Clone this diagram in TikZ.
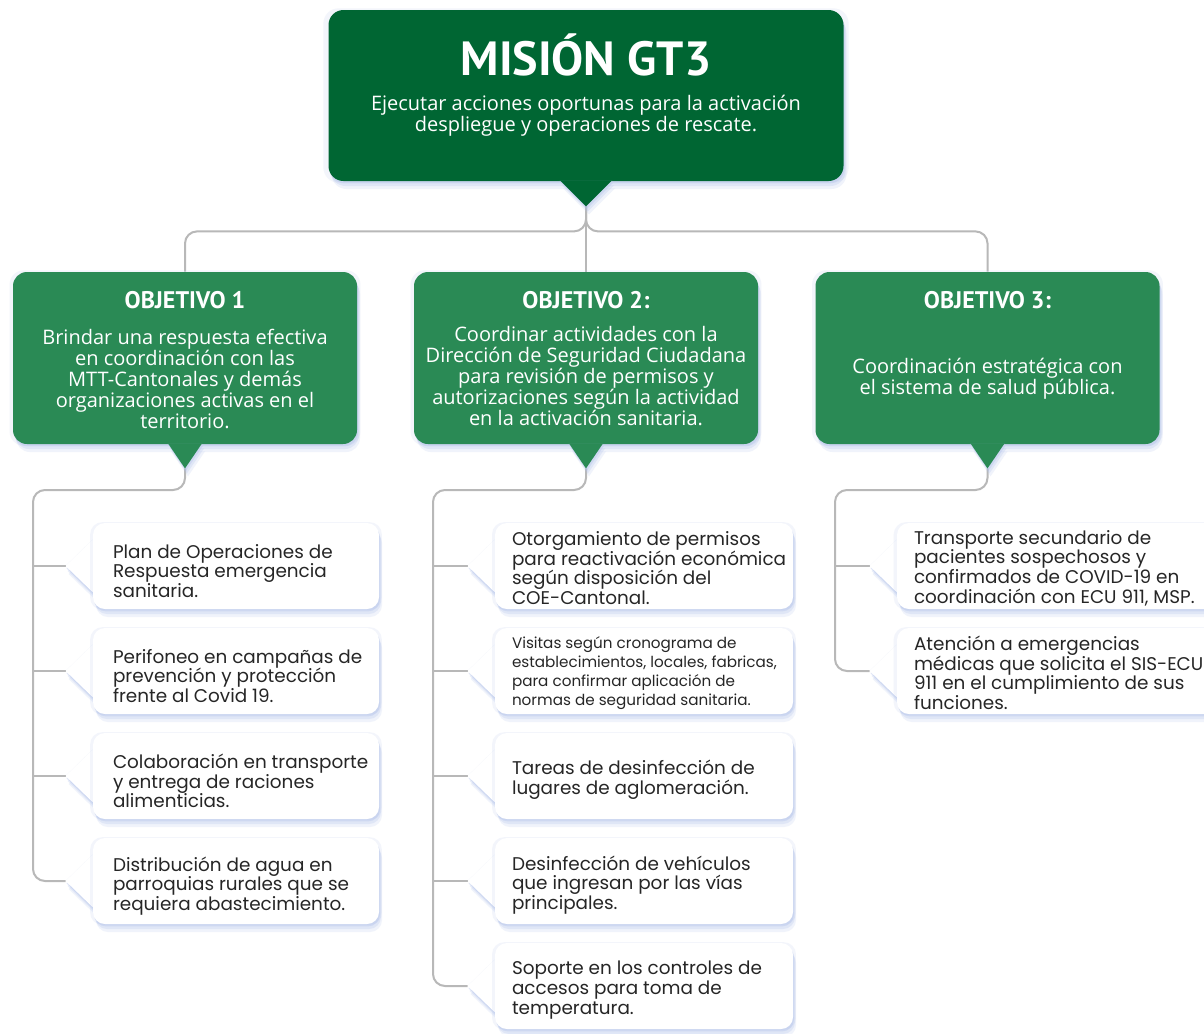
\documentclass[tikz,border=0pt]{standalone}
\usepackage{fontspec}
\setmainfont{Open Sans}
\newfontfamily\headfont{PT Sans}
\newfontfamily\cardfont{Poppins}
\usetikzlibrary{shadows}

\definecolor{misgreen}{HTML}{006633}
\definecolor{objgreen}{HTML}{2A8A55}
\definecolor{linegray}{HTML}{B8B8B8}
\definecolor{shadowblue}{HTML}{AFC0EA}
\definecolor{cardtext}{HTML}{262626}

\pgfdeclarelayer{back}
\pgfsetlayers{back,main}

\begin{document}
\begin{tikzpicture}[x=0.5pt, y=-0.5pt,
    softshadow/.style = {
        drop shadow={shadow xshift=0pt, shadow yshift=0pt, shadow scale=1.02, fill=shadowblue, opacity=0.15},
        drop shadow={shadow xshift=1.5pt, shadow yshift=-4pt, fill=shadowblue, opacity=0.18},
        drop shadow={shadow xshift=1pt, shadow yshift=-2.5pt, fill=shadowblue, opacity=0.25},
        drop shadow={shadow xshift=0.5pt, shadow yshift=-1.2pt, fill=shadowblue, opacity=0.35}},
    misbox/.style = {fill=misgreen, rounded corners=7.5pt, minimum width=257.5pt, minimum height=85.5pt, softshadow},
    objbox/.style = {fill=objgreen, rounded corners=7pt, minimum width=172pt, minimum height=86pt, softshadow},
    card/.style = {fill=white, rounded corners=6pt, minimum height=43pt, softshadow},
    title/.style = {text=white, font=\headfont\bfseries\fontsize{24}{24}\selectfont},
    head/.style = {text=white, font=\headfont\bfseries\fontsize{12}{12}\selectfont},
    body/.style = {text=white, align=center, font=\fontsize{10}{10.6}\selectfont},
    cardtxt/.style = {anchor=west, align=left, inner sep=0pt, text=cardtext, font=\cardfont\fontsize{9.2}{9.8}\selectfont},
    conn/.style = {draw=linegray, line width=1pt, rounded corners=6pt}]

\useasboundingbox (0,0) rectangle (1204,1033);
\begin{pgfonlayer}{back}
\fill[white] (0,0) rectangle (1204,1033);
\end{pgfonlayer}

% mission
\node[misbox] (mis) at (586,95.5) {};
\node[title] (mist) at (586,55) {MISIÓN GT3};
\node[body] (misb) at (586,115.5) {Ejecutar acciones oportunas para la activación\\despliegue y operaciones de rescate.};
\coordinate (mtip) at ([yshift=-12.5pt]mis.south);
\fill[misgreen, softshadow] ([xshift=-13pt,yshift=0.5pt]mis.south) -- ([xshift=13pt,yshift=0.5pt]mis.south) -- (mtip) -- cycle;

% objectives
\node[objbox] (obj1) at (185,358) {};
\node[objbox] (obj2) at (586,358) {};
\node[objbox] (obj3) at (987.5,358) {};
\node[head] (h1) at (185,300) {OBJETIVO 1};
\node[head] (h2) at (586,300) {OBJETIVO 2:};
\node[head] (h3) at (987.5,300) {OBJETIVO 3:};
\node[body] (o1) at (185,379) {Brindar una respuesta efectiva\\en coordinación con las\\MTT-Cantonales y demás\\organizaciones activas en el\\territorio.};
\node[body] (o2) at (586,376) {Coordinar actividades con la\\Dirección de Seguridad Ciudadana\\para revisión de permisos y\\autorizaciones según la actividad\\en la activación sanitaria.};
\node[body] (o3) at (987.5,378.5) {Coordinación estratégica con\\el sistema de salud pública.};
\foreach \o/\t in {obj1/t1, obj2/t2, obj3/t3} {
    \coordinate (\t) at ([yshift=-12pt]\o.south);
    \fill[objgreen, softshadow] ([xshift=-8.5pt,yshift=0.5pt]\o.south) -- ([xshift=8.5pt,yshift=0.5pt]\o.south) -- (\t) -- cycle;
}

% cards
\node[card, minimum width=143pt] (a1) at (236,566) {};
\node[card, minimum width=143pt] (a2) at (236,671) {};
\node[card, minimum width=143pt] (a3) at (236,776) {};
\node[card, minimum width=143pt] (a4) at (236,881) {};
\node[card, minimum width=149pt] (b1) at (644,566) {};
\node[card, minimum width=149pt] (b2) at (644,671) {};
\node[card, minimum width=149pt] (b3) at (644,776) {};
\node[card, minimum width=149pt] (b4) at (644,881) {};
\node[card, minimum width=149pt] (b5) at (644,986) {};
\node[card, minimum width=165pt] (c1) at (1062,566) {};
\node[card, minimum width=165pt] (c2) at (1062,671) {};

\node[cardtxt] (a1t) at ([xshift=10pt,yshift=-2.5pt]a1.west) {Plan de Operaciones de\\Respuesta emergencia\\sanitaria.};
\node[cardtxt] (a2t) at ([xshift=10pt,yshift=-2.5pt]a2.west) {Perifoneo en campañas de\\prevención y protección\\frente al Covid 19.};
\node[cardtxt] (a3t) at ([xshift=10pt,yshift=-2.5pt]a3.west) {Colaboración en transporte\\y entrega de raciones\\alimenticias.};
\node[cardtxt] (a4t) at ([xshift=10pt,yshift=-2.5pt]a4.west) {Distribución de agua en\\parroquias rurales que se\\requiera abastecimiento.};
\node[cardtxt] (b1t) at ([xshift=8.5pt,yshift=-1pt]b1.west) {Otorgamiento de permisos\\para reactivación económica\\según disposición del\\COE-Cantonal.};
\node[cardtxt, font=\cardfont\fontsize{7.6}{9.6}\selectfont] (b2t) at ([xshift=8.5pt,yshift=-1pt]b2.west) {Visitas según cronograma de\\establecimientos, locales, fabricas,\\para confirmar aplicación de\\normas de seguridad sanitaria.};
\node[cardtxt] (b3t) at ([xshift=8.5pt,yshift=-2pt]b3.west) {Tareas de desinfección de\\lugares de aglomeración.};
\node[cardtxt] (b4t) at ([xshift=8.5pt,yshift=-2pt]b4.west) {Desinfección de vehículos\\que ingresan por las vías\\principales.};
\node[cardtxt] (b5t) at ([xshift=8.5pt,yshift=-2pt]b5.west) {Soporte en los controles de\\accesos para toma de\\temperatura.};
\node[cardtxt] (c1t) at ([xshift=8.5pt,yshift=-1pt]c1.west) {Transporte secundario de\\pacientes sospechosos y\\confirmados de COVID-19 en\\coordinación con ECU 911, MSP.};
\node[cardtxt] (c2t) at ([xshift=8.5pt,yshift=-1pt]c2.west) {Atención a emergencias\\médicas que solicita el SIS-ECU\\911 en el cumplimiento de sus\\funciones.};

\foreach \n in {a1,a2,a3,a4,b1,b2,b3,b4,b5,c1,c2}
    \coordinate (p\n) at ([xshift=-13.5pt]\n.west);

% connectors and card pointers
\coordinate (l1) at (33,490);
\coordinate (l2) at (433,490);
\coordinate (l3) at (835,490);
\begin{pgfonlayer}{back}
\draw[conn] (mtip) -- (obj2.north);
\draw[conn] (mtip) -- ++(0,25) -| (obj1.north);
\draw[conn] (mtip) -- ++(0,25) -| (obj3.north);
\draw[conn] (t1) |- (l1) |- (pa4);
\draw[conn] (t2) |- (l2) |- (pb5);
\draw[conn] (t3) |- (l3) |- (pc2);
\foreach \n in {a1,a2,a3} \draw[conn] (l1 |- p\n) -- (p\n);
\foreach \n in {b1,b2,b3,b4} \draw[conn] (l2 |- p\n) -- (p\n);
\draw[conn] (l3 |- pc1) -- (pc1);
\foreach \n in {a1,a2,a3,a4,b1,b2,b3,b4,b5,c1,c2}
    \fill[white, softshadow] ([xshift=1pt,yshift=14pt]\n.west) -- (p\n) -- ([xshift=1pt,yshift=-14pt]\n.west) -- cycle;
\end{pgfonlayer}
\end{tikzpicture}
\end{document}
